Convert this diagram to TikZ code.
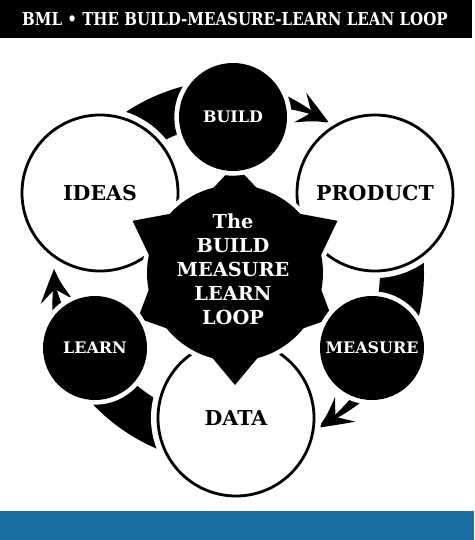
\documentclass[tikz,border=0pt]{standalone}
\usepackage{fontspec}
\setmainfont{DejaVu Serif}
\usetikzlibrary{positioning}
\definecolor{bandblue}{RGB}{27,110,164}

% part of the loop band, between a white and a black circle
\newcommand{\loopband}[2]{%
  \fill[shift={(ring)}] (#1:192) arc[start angle=#1, end angle=#2, radius=192]
    -- (#2:148) arc[start angle=#2, end angle=#1, radius=148] -- cycle;}
% tapered arrow of the loop, from a black circle to a white one
\newcommand{\looparrow}[2]{%
  \pgfmathsetmacro{\ab}{#2+6.5}%
  \pgfmathsetmacro{\abarb}{#2+10.5}%
  \pgfmathsetmacro{\amid}{#2+4.5}%
  \fill[shift={(ring)}]
    plot[domain=#1:\ab, samples=20] (\x:{178+0.5*(3.5+12.5*((\x)-(\ab))/((#1)-(\ab)))})
    -- plot[domain=\ab:#1, samples=20] (\x:{178-0.5*(3.5+12.5*((\x)-(\ab))/((#1)-(\ab)))})
    -- cycle;
  \fill[shift={(ring)}] (#2:178) .. controls (\amid:184) .. (\abarb:194) -- (\ab:178)
    -- (\abarb:162) .. controls (\amid:172) .. cycle;}

\begin{document}
\begin{tikzpicture}
[x=0.03cm, y=0.03cm,
    every node/.style={align=center, inner sep=0pt},
    bigcirc/.style={circle, minimum size=4.68cm, fill=white, draw=black,
        line width=2.4pt, preaction={draw=white, line width=12pt},
        font=\fontsize{17.5}{20}\selectfont\bfseries},
    blackcirc/.style={circle, minimum size=3.12cm, fill=black, text=white,
        preaction={draw=white, line width=8pt},
        font=\fontsize{13.6}{16}\selectfont\bfseries},
    ]
    \useasboundingbox (0,0) rectangle (474,-540);

    % title bar and bottom band
    \node[fill=black, text=white, minimum width=14.22cm, minimum height=1.14cm,
          font=\fontsize{15.2}{18}\selectfont\bfseries] (title) at (235,-19)
          {\scalebox{0.845}[1]{BML • THE BUILD-MEASURE-LEARN LEAN LOOP}};
    \node[fill=bandblue, minimum width=14.22cm, minimum height=0.87cm] (band) at (237,-525.5) {};

    \coordinate (ring) at (232,-272);
    \coordinate (hub) at (235,-273);

    % the loop
    \loopband{135}{95}
    \looparrow{76}{57}
    \loopband{15}{-20}
    \looparrow{-38}{-61}
    \loopband{258}{205}
    \looparrow{196}{179}

    % white steps
    \node[bigcirc] (ideas) at (100,-193) {IDEAS};
    \node[bigcirc] (product) at (375,-193) {PRODUCT};
    \node[bigcirc] (data) at (236,-418) {DATA};

    % the gear in the middle
    \begin{scope}[shift={(hub)}]
      \foreach \ang/\rad in {90/108,153/115,27/115,205/107,335/107,270/112}
        \draw[white, line width=8pt, line join=round] (\ang:\rad) -- (\ang-20:83) -- (\ang+20:83) -- cycle;
      \draw[white, line width=8pt] (0,0) circle (88);
      \fill (0,0) circle (88);
      \foreach \ang/\rad in {90/108,153/115,27/115,205/107,335/107,270/112}
        \fill (\ang:\rad) -- (\ang-20:83) -- (\ang+20:83) -- cycle;
    \end{scope}
    \node[text=white, font=\fontsize{16.5}{20.5}\selectfont\bfseries] (core) at (233,-269)
      {The\\BUILD\\MEASURE\\LEARN\\LOOP};

    % black steps
    \node[blackcirc, minimum size=3.24cm] (build) at (233,-117) {BUILD};
    \node[blackcirc] (measure) at (372,-348) {MEASURE};
    \node[blackcirc] (learn) at (95,-348) {LEARN};
\end{tikzpicture}
\end{document}
